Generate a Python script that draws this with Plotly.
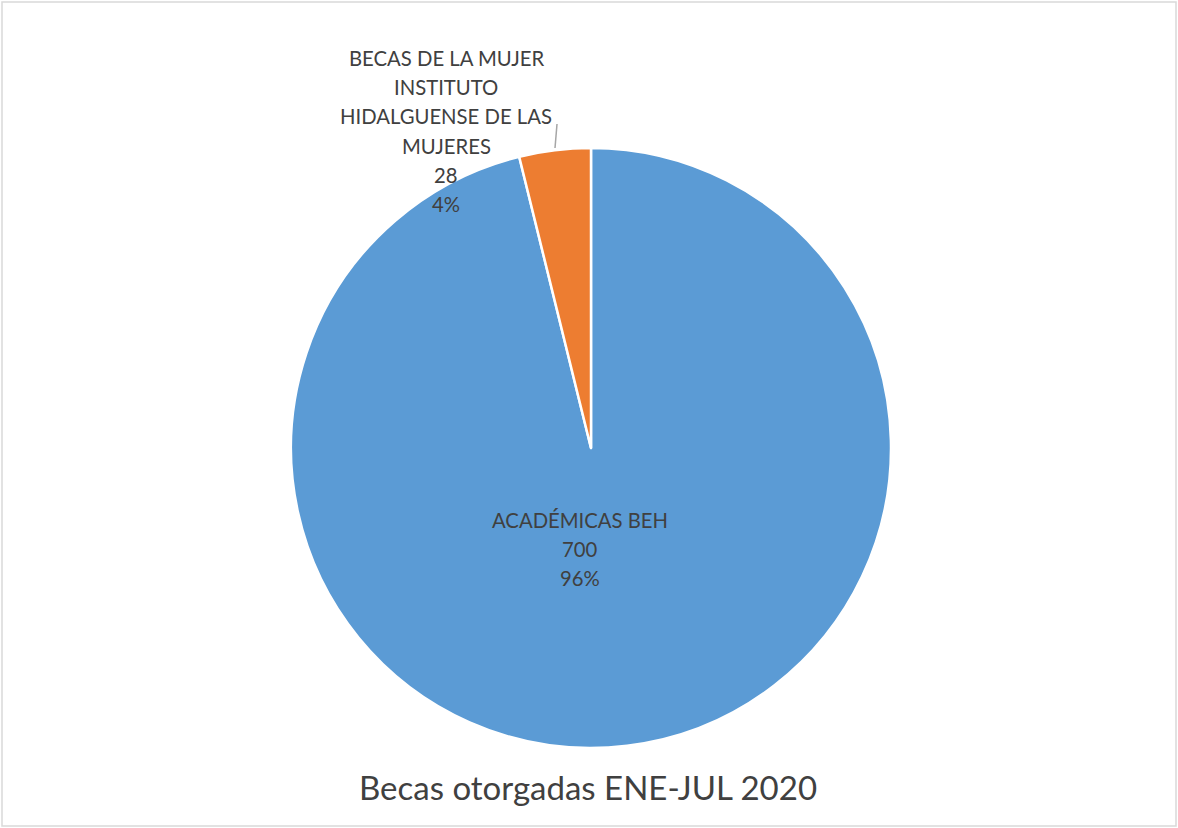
import plotly.graph_objects as go

categories = ["ACADÉMICAS BEH", "BECAS DE LA MUJER INSTITUTO HIDALGUENSE DE LAS MUJERES"]
label_lines = [["ACADÉMICAS BEH"], ["BECAS DE LA MUJER", "INSTITUTO", "HIDALGUENSE DE LAS", "MUJERES"]]
values = [700, 28]
colors = ["#5B9BD5", "#ED7D31"]
title = "Becas otorgadas ENE-JUL 2020"

W, H = 1178, 828
total = sum(values)

fig = go.Figure()
fig.add_trace(go.Pie(
    labels=categories,
    values=values,
    sort=False,
    direction="clockwise",
    rotation=0,
    textinfo="none",
    hoverinfo="label+value+percent",
    marker=dict(colors=colors, line=dict(color="white", width=2.5)),
    domain=dict(x=[291 / W, 891 / W], y=[1 - 748 / H, 1 - 148 / H]),
    showlegend=False,
))

def px(x, y):
    return x / W, 1 - y / H

font = dict(family="Lato", size=20.3, color="#404040")
LINE = 29.2
label_pos = [(580, 520), (446, 58)]  # centre x, first-line centre y
for lines, v, (lx, ly) in zip(label_lines, values, label_pos):
    pct = f"{round(100 * v / total)}%"
    for i, line in enumerate(lines + [str(v), pct]):
        ax, ay = px(lx, ly + i * LINE)
        fig.add_annotation(x=ax, y=ay, xref="paper", yref="paper", text=line,
                           showarrow=False, font=font, align="center",
                           xanchor="center", yanchor="middle")

# leader line for the small slice label
x0, y0 = px(557, 124)
x1, y1 = px(555, 148)
fig.add_shape(type="line", xref="paper", yref="paper", x0=x0, y0=y0, x1=x1, y1=y1,
              line=dict(color="#A6A6A6", width=1.5))

# outer chart border
fig.add_shape(type="rect", xref="paper", yref="paper",
              x0=2 / W, y0=2 / H, x1=1 - 2 / W, y1=1 - 2 / H,
              line=dict(color="#D9D9D9", width=1.5))

tx, ty = px(588, 787)
fig.add_annotation(x=tx, y=ty, xref="paper", yref="paper", text=title,
                   showarrow=False, font=dict(family="Lato", size=33, color="#404040"),
                   xanchor="center", yanchor="middle")

fig.update_layout(width=W, height=H, margin=dict(l=0, r=0, t=0, b=0),
                  paper_bgcolor="white", plot_bgcolor="white")
fig.write_html("out.html", config={"displayModeBar": False},
               post_script="document.body.style.margin='0';")
